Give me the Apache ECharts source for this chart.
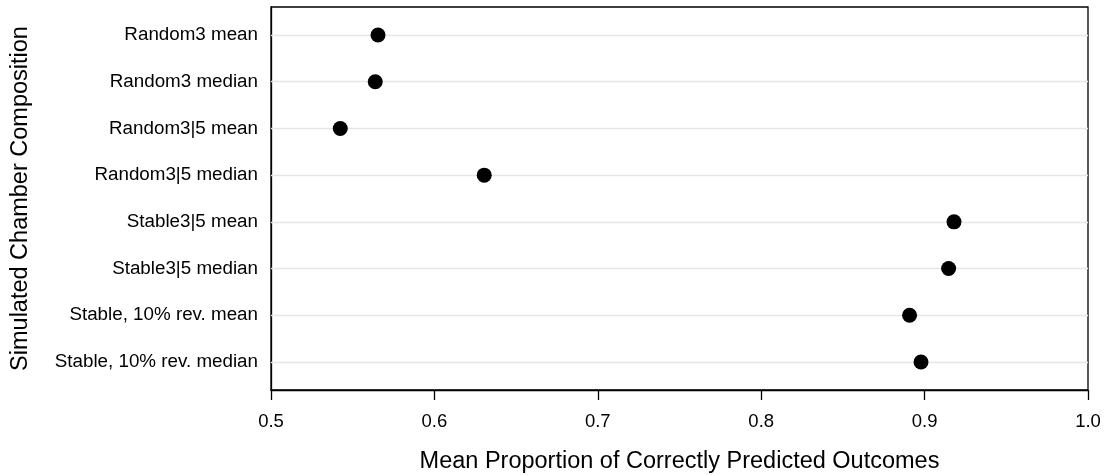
<!DOCTYPE html>
<html>
<head>
<meta charset="utf-8">
<script src="https://cdn.jsdelivr.net/npm/echarts@6/dist/echarts.min.js"></script>
<style>
  html, body { margin: 0; padding: 0; background: #fff; }
  #chart { width: 1107px; height: 475px; }
</style>
</head>
<body>
<div id="chart"></div>
<script>
// row labels, top to bottom
var categories = [
  'Random3 mean',
  'Random3 median',
  'Random3|5 mean',
  'Random3|5 median',
  'Stable3|5 mean',
  'Stable3|5 median',
  'Stable, 10% rev. mean',
  'Stable, 10% rev. median'
];
// mean proportion correctly predicted
var values = [0.5655, 0.5638, 0.5424, 0.6305, 0.918, 0.9147, 0.8908, 0.8978];
var xTicks = [0.5, 0.6, 0.7, 0.8, 0.9, 1.0];

var rows = categories.map(function (c, i) { return i + 1; });
var font = 'Liberation Sans, Arial, Helvetica, sans-serif';

var chart = echarts.init(document.getElementById('chart'));
chart.setOption({
  animation: false,
  grid: {
    left: 271, right: 19, top: 7, bottom: 85,
    containLabel: false,
    outerBoundsMode: 'none',
    show: true, borderColor: '#000', borderWidth: 1.3, backgroundColor: '#fff'
  },
  xAxis: {
    type: 'value',
    min: 0.5, max: 1.0, interval: 0.1,
    name: 'Mean Proportion of Correctly Predicted Outcomes',
    nameLocation: 'middle',
    nameGap: 60,
    nameTextStyle: { fontFamily: font, fontSize: 23.5, color: '#000' },
    axisLine: { show: true, lineStyle: { color: '#000', width: 1.3 } },
    axisTick: { show: true, length: 10, lineStyle: { color: '#000', width: 1.3 } },
    axisLabel: {
      margin: 22, fontFamily: font, fontSize: 18.5, color: '#000',
      customValues: xTicks,
      formatter: function (v) { return v.toFixed(1); }
    },
    splitLine: { show: false }
  },
  yAxis: {
    type: 'value',
    inverse: true,
    min: 0.4, max: 8.6,
    name: 'Simulated Chamber Composition',
    nameLocation: 'middle',
    nameGap: 238,
    nameRotate: 90,
    nameTextStyle: { fontFamily: font, fontSize: 23.5, color: '#000' },
    axisLine: { show: true, lineStyle: { color: '#000', width: 1.3 } },
    axisTick: { show: false },
    axisLabel: {
      margin: 13, fontFamily: font, fontSize: 18.8, color: '#000',
      customValues: rows,
      formatter: function (v) { return categories[Math.round(v) - 1]; }
    },
    splitLine: { show: false }
  },
  series: [
    {
      // light row guides
      type: 'line',
      data: [],
      z: 1,
      markLine: {
        silent: true,
        symbol: 'none',
        label: { show: false },
        lineStyle: { color: '#e6e6e6', width: 1.3, type: 'solid' },
        data: rows.map(function (r) { return { yAxis: r }; })
      }
    },
    {
      type: 'scatter',
      z: 5,
      symbol: 'circle',
      symbolSize: 15,
      itemStyle: { color: '#000', opacity: 1 },
      data: values.map(function (v, i) { return [v, rows[i]]; })
    }
  ]
});
</script>
</body>
</html>
